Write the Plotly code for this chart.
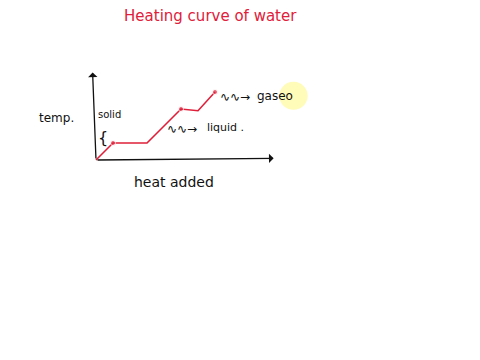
import plotly.graph_objects as go

# heating curve data (arbitrary units of heat added vs temperature)
heat = [0, 1, 3, 5, 6, 7]
temp = [0, 1, 1, 3, 2.9, 4]
dot_size = [0, 5, 0, 5, 0, 5]

title_text = "Heating curve of water"
x_label = "heat added"
y_label = "temp."
phase_labels = ["solid", "liquid", "gaseo"]
phase_x = [0.8, 7.6, 10.55]
phase_y = [2.65, 1.9, 3.75]

RED = "#e0203a"
INK = "#111111"
FONT = "DejaVu Sans"
SQUIGGLE = "∿∿→"

fig = go.Figure()

# highlight circle (cursor)
fig.add_shape(type="circle", xref="x", yref="y",
              x0=10.78, x1=12.45, y0=2.95, y1=4.6,
              fillcolor="rgba(255,250,160,0.75)", line=dict(width=0), layer="below")

fig.add_trace(go.Scatter(x=heat, y=temp, mode="lines+markers",
                         line=dict(color=RED, width=1.6),
                         marker=dict(color=RED, size=dot_size),
                         hoverinfo="skip", showlegend=False))

ann = []
# axes drawn as arrows
ann.append(dict(x=-0.2, y=5.15, ax=0, ay=0, xref="x", yref="y", axref="x", ayref="y",
                showarrow=True, arrowhead=1, arrowsize=1.2, arrowwidth=1.3, arrowcolor=INK, text=""))
ann.append(dict(x=10.45, y=0.1, ax=0, ay=0, xref="x", yref="y", axref="x", ayref="y",
                showarrow=True, arrowhead=1, arrowsize=1.2, arrowwidth=1.3, arrowcolor=INK, text=""))
# labels
ann.append(dict(x=4.6, y=-1.3, text=x_label, showarrow=False, xref="x", yref="y",
                font=dict(family=FONT, size=14, color=INK)))
ann.append(dict(x=-2.35, y=2.47, text=y_label, showarrow=False, xref="x", yref="y",
                font=dict(family=FONT, size=12, color=INK)))
ann.append(dict(x=phase_x[0], y=phase_y[0], text=phase_labels[0], showarrow=False, xref="x", yref="y",
                font=dict(family=FONT, size=10, color=INK)))
ann.append(dict(x=phase_x[1], y=phase_y[1], text=phase_labels[1] + " .", showarrow=False, xref="x", yref="y",
                font=dict(family=FONT, size=11, color=INK)))
ann.append(dict(x=phase_x[2], y=phase_y[2], text=phase_labels[2], showarrow=False, xref="x", yref="y",
                font=dict(family=FONT, size=12, color=INK)))
# brace and squiggle arrows
ann.append(dict(x=0.4, y=1.35, text="{", showarrow=False, xref="x", yref="y",
                font=dict(family=FONT, size=16, color=INK)))
ann.append(dict(x=5.05, y=1.8, text=SQUIGGLE, showarrow=False, xref="x", yref="y",
                font=dict(family=FONT, size=12, color=INK)))
ann.append(dict(x=8.15, y=3.72, text=SQUIGGLE, showarrow=False, xref="x", yref="y",
                font=dict(family=FONT, size=12, color=INK)))

fig.update_layout(
    width=480, height=360, autosize=False,
    margin=dict(l=0, r=0, t=0, b=0),
    paper_bgcolor="white", plot_bgcolor="white",
    title=dict(text=title_text, x=0.438, y=0.955, xanchor="center", yanchor="middle",
               font=dict(family=FONT, size=15, color=RED)),
    xaxis=dict(range=[-96/17, 384/17], visible=False, fixedrange=True),
    yaxis=dict(range=[-200/17, 160/17], visible=False, fixedrange=True),
    annotations=ann,
)

fig.write_html("out.html")
